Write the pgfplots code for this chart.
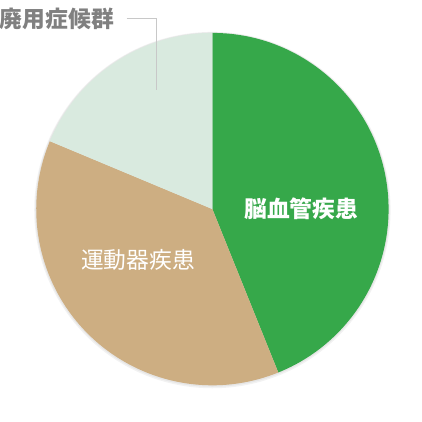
\documentclass[border=0pt]{standalone}
\usepackage{pgfplots}
\pgfplotsset{compat=1.18}
\usepackage{pgfplotstable}
\usepackage{fontspec}
\newfontfamily\jp{Noto Sans CJK JP}

\definecolor{brain}{RGB}{54,168,74}
\definecolor{motor}{RGB}{205,174,130}
\definecolor{disuse}{RGB}{217,234,223}
\definecolor{labelgray}{RGB}{128,128,128}
\definecolor{leader}{RGB}{200,200,200}

% share of each group in percent, clockwise from 12 o'clock
\pgfplotstableread{
idx share
0 43.9
1 37.4
2 18.7
}\piedata

\begin{document}
\begin{tikzpicture}
\pgfplotstablegetelem{0}{share}\of\piedata \let\sA\pgfplotsretval
\pgfplotstablegetelem{1}{share}\of\piedata \let\sB\pgfplotsretval
\pgfplotstablegetelem{2}{share}\of\piedata \let\sC\pgfplotsretval
\pgfmathsetmacro{\aA}{90}
\pgfmathsetmacro{\aB}{\aA-3.6*\sA}
\pgfmathsetmacro{\aC}{\aB-3.6*\sB}
\pgfmathsetmacro{\aD}{\aC-3.6*\sC}
\def\cx{212}\def\cy{212.5}\def\rr{176.5}
\begin{axis}[
    scale only axis,
    width=422pt, height=422pt,
    xmin=0, xmax=422, ymin=0, ymax=422,
    hide axis, clip=false
]
\path (axis cs:0,0) rectangle (axis cs:422,422);
% faint shadow
\fill[black, opacity=0.05] (axis cs:\cx,\cy-1) circle[radius=178.5pt];
\fill[black, opacity=0.05] (axis cs:\cx,\cy-0.5) circle[radius=177.5pt];
% slices
\fill[brain] (axis cs:\cx,\cy) -- (axis cs:{\cx+\rr*cos(\aA)},{\cy+\rr*sin(\aA)})
    arc[start angle=\aA, end angle=\aB, radius=176.5pt] -- cycle;
\fill[motor] (axis cs:\cx,\cy) -- (axis cs:{\cx+\rr*cos(\aB)},{\cy+\rr*sin(\aB)})
    arc[start angle=\aB, end angle=\aC, radius=176.5pt] -- cycle;
\fill[disuse] (axis cs:\cx,\cy) -- (axis cs:{\cx+\rr*cos(\aC)},{\cy+\rr*sin(\aC)})
    arc[start angle=\aC, end angle=\aD, radius=176.5pt] -- cycle;
% labels
\node[text=white, font=\jp\bfseries\fontsize{22.8}{26}\selectfont] at (axis cs:301,213) {脳血管疾患};
\node[text=white, font=\jp\fontsize{22.8}{26}\selectfont] at (axis cs:137.5,161.5) {運動器疾患};
\node[anchor=west, inner sep=0pt, text=labelgray, font=\jp\bfseries\fontsize{22.8}{26}\selectfont] at (axis cs:-1,403) {廃用症候群};
\draw[leader, line width=1pt] (axis cs:126,403) -- (axis cs:155.5,403) -- (axis cs:155.5,332);
\end{axis}
\end{tikzpicture}
\end{document}
